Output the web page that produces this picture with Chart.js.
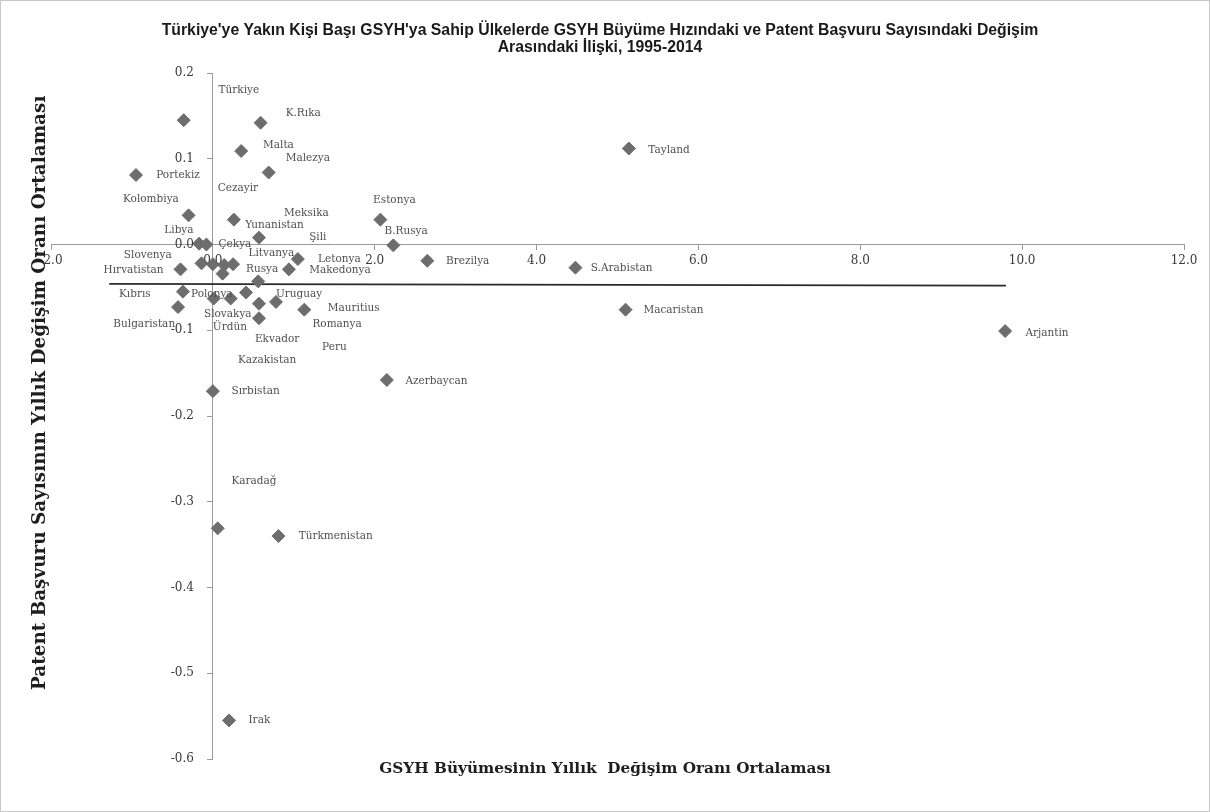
<!DOCTYPE html>
<html>
<head>
<meta charset="utf-8">
<script src="https://cdn.jsdelivr.net/npm/chart.js@4.4.1/dist/chart.umd.min.js"></script>
<style>
  html, body { margin: 0; padding: 0; background: #fff; }
  #wrap { position: relative; width: 1210px; height: 812px; box-sizing: border-box; border: 1px solid #c8c8c8; }
</style>
</head>
<body>
<div id="wrap"><canvas id="c"></canvas></div>
<script>
// ---- data ----
const titleLines = [
  "Türkiye'ye Yakın Kişi Başı GSYH'ya Sahip Ülkelerde GSYH Büyüme Hızındaki ve Patent Başvuru Sayısındaki Değişim",
  "Arasındaki İlişki, 1995-2014"
];
const xTitle = "GSYH Büyümesinin Yıllık  Değişim Oranı Ortalaması";
const yTitle = "Patent Başvuru Sayısının Yıllık Değişim Oranı Ortalaması";

// GSYH growth (x) and patent growth (y) of the plotted points
const pointX = [-0.36, 0.59, 0.35, 0.69, -0.95, 5.14, -0.30, 0.26, 2.07, 2.23,
                -0.17, -0.08, 0.57, 1.05, 2.65, 4.48, -0.40, -0.14, 0.00, 0.14,
                0.25, 0.12, 0.94, 0.56, -0.37, 0.01, 0.22, 0.41, 0.78, 0.57,
                1.13, -0.43, 0.57, 5.10, 9.79, 2.15, 0.00, 0.06, 0.81, 0.20];
const pointY = [0.145, 0.142, 0.109, 0.084, 0.081, 0.112, 0.034, 0.029, 0.029, -0.001,
                0.001, 0.000, 0.008, -0.017, -0.019, -0.027, -0.029, -0.022, -0.023, -0.024,
                -0.023, -0.034, -0.029, -0.043, -0.055, -0.063, -0.063, -0.056, -0.067, -0.069,
                -0.076, -0.073, -0.086, -0.076, -0.101, -0.158, -0.171, -0.331, -0.340, -0.555];

// country labels and where they sit (in axis units)
const labelNames = ["Türkiye", "K.Rıka", "Malta", "Malezya", "Portekiz", "Tayland", "Cezayir",
  "Kolombiya", "Meksika", "Yunanistan", "Libya", "Estonya", "B.Rusya", "Çekya", "Şili",
  "Litvanya", "Letonya", "Makedonya", "Brezilya", "S.Arabistan", "Slovenya", "Hırvatistan",
  "Rusya", "Kıbrıs", "Polonya", "Uruguay", "Mauritius", "Bulgaristan", "Slovakya", "Ürdün",
  "Romanya", "Ekvador", "Peru", "Kazakistan", "Macaristan", "Arjantin", "Azerbaycan",
  "Sırbistan", "Karadağ", "Türkmenistan", "Irak"];
const labelX = [0.07, 0.90, 0.62, 0.90, -0.70, 5.38, 0.06,
  -1.11, 0.88, 0.40, -0.60, 1.98, 2.12, 0.07, 1.19,
  0.44, 1.30, 1.19, 2.88, 4.67, -1.10, -1.35,
  0.41, -1.16, -0.27, 0.78, 1.42, -1.23, -0.11, 0.00,
  1.23, 0.52, 1.35, 0.31, 5.32, 10.04, 2.38,
  0.23, 0.23, 1.06, 0.44];
const labelY = [0.180, 0.153, 0.116, 0.101, 0.081, 0.110, 0.065,
  0.053, 0.037, 0.023, 0.017, 0.052, 0.016, 0.000, 0.008,
  -0.010, -0.017, -0.030, -0.019, -0.028, -0.013, -0.030,
  -0.029, -0.058, -0.058, -0.058, -0.074, -0.093, -0.081, -0.097,
  -0.093, -0.110, -0.120, -0.135, -0.077, -0.103, -0.159,
  -0.171, -0.276, -0.340, -0.555];

// linear trend line end points
const trendX = [-1.28, 9.80];
const trendY = [-0.046, -0.048];

// axis ranges / ticks
const xMin = -2, xMax = 12, xStep = 2;
const yMin = -0.6, yMax = 0.2, yStep = 0.1;

// ---- chart ----
const points = pointX.map((x, i) => ({ x: x, y: pointY[i] }));
const trend = trendX.map((x, i) => ({ x: x, y: trendY[i] }));
const serif = '"DejaVu Serif", "Liberation Serif", serif';

const labelPlugin = {
  id: 'countryLabels',
  afterDatasetsDraw(chart) {
    const ctx = chart.ctx;
    const xs = chart.scales.x, ys = chart.scales.y;
    ctx.save();
    ctx.font = '10.5px ' + serif;
    ctx.fillStyle = '#505050';
    ctx.textAlign = 'left';
    ctx.textBaseline = 'middle';
    labelNames.forEach((n, i) => {
      ctx.fillText(n, xs.getPixelForValue(labelX[i]), ys.getPixelForValue(labelY[i]));
    });
    ctx.restore();
  }
};

// y tick labels drawn to the left of the crossing y axis
const yTickPlugin = {
  id: 'yTickLabels',
  afterDraw(chart) {
    const ctx = chart.ctx;
    const ys = chart.scales.y, xs = chart.scales.x;
    const ax = xs.getPixelForValue(0);
    ctx.save();
    ctx.font = '12px ' + serif;
    ctx.fillStyle = '#3a3a3a';
    ctx.textAlign = 'right';
    ctx.textBaseline = 'middle';
    ys.ticks.forEach(t => {
      ctx.fillText((Math.round(t.value * 10) / 10).toFixed(1), ax - 19, ys.getPixelForValue(t.value));
    });
    ctx.restore();
  }
};

const titlesPlugin = {
  id: 'titles',
  afterDraw(chart) {
    const ctx = chart.ctx;
    const a = chart.chartArea;
    const cx = chart.width / 2;
    ctx.save();
    ctx.textAlign = 'center';
    ctx.textBaseline = 'middle';
    // main title
    ctx.fillStyle = '#1a1a1a';
    ctx.font = 'bold 15.8px "Liberation Sans", Arial, sans-serif';
    ctx.fillText(titleLines[0], cx - 5, 30);
    ctx.fillText(titleLines[1], cx - 5, 47);
    // axis titles
    ctx.fillStyle = '#1e1e1e';
    ctx.font = 'bold 15.3px ' + serif;
    ctx.fillText(xTitle, cx, a.bottom + 10);
    ctx.translate(39, chart.scales.y.getPixelForValue(-0.173));
    ctx.rotate(-Math.PI / 2);
    ctx.font = 'bold 18.4px ' + serif;
    ctx.fillText(yTitle, 0, 0);
    ctx.restore();
  }
};

new Chart(document.getElementById('c'), {
  type: 'scatter',
  data: {
    datasets: [
      {
        label: 'Ülkeler',
        data: points,
        pointStyle: 'rectRot',
        pointRadius: 6.5,
        pointHoverRadius: 6.5,
        backgroundColor: '#6d6d6d',
        borderColor: '#6d6d6d',
        borderWidth: 1
      },
      {
        label: 'Trend',
        type: 'line',
        data: trend,
        borderColor: '#2a2a2a',
        borderWidth: 1.8,
        pointRadius: 0,
        fill: false
      }
    ]
  },
  options: {
    responsive: true,
    maintainAspectRatio: false,
    animation: false,
    layout: { padding: { left: 50, right: 25, bottom: 52, top: 72 } },
    plugins: {
      legend: { display: false },
      tooltip: { enabled: false },
      title: { display: false }
    },
    scales: {
      x: {
        type: 'linear',
        min: xMin, max: xMax,
        position: { y: 0 },
        grid: { display: true, drawOnChartArea: false, drawTicks: true, tickLength: 5, color: '#9a9a9a' },
        border: { display: true, color: '#9a9a9a', width: 1 },
        ticks: {
          stepSize: xStep,
          padding: 4,
          color: '#3a3a3a',
          font: { family: serif, size: 12 },
          callback: v => v.toFixed(1)
        }
      },
      y: {
        type: 'linear',
        min: yMin, max: yMax,
        position: { x: 0 },
        grid: { display: true, drawOnChartArea: false, drawTicks: true, tickLength: 5, color: '#9a9a9a' },
        border: { display: true, color: '#9a9a9a', width: 1 },
        ticks: {
          stepSize: yStep,
          display: false
        }
      }
    }
  },
  plugins: [labelPlugin, yTickPlugin, titlesPlugin]
});
</script>
</body>
</html>
